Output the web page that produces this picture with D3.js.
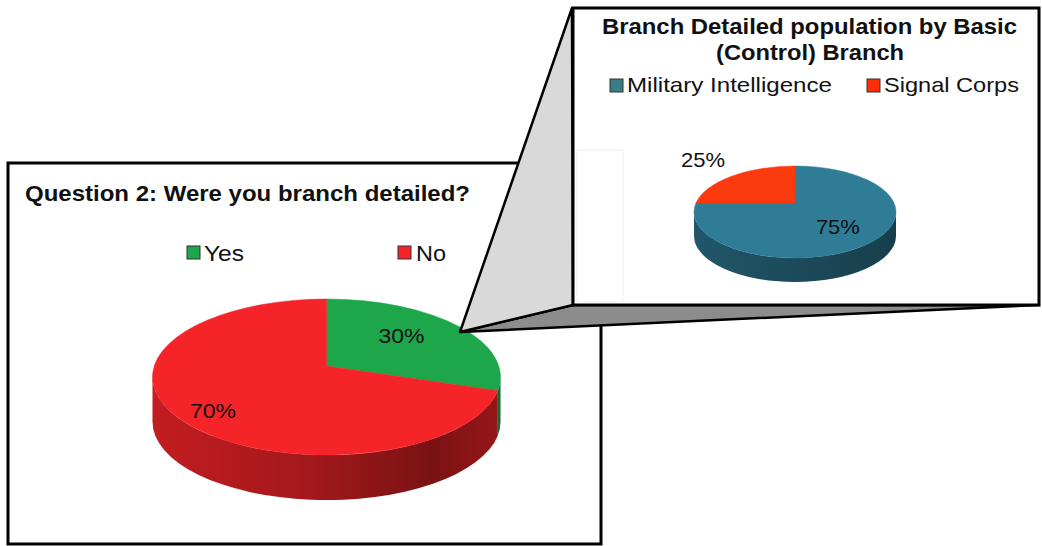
<!DOCTYPE html>
<html>
<head>
<meta charset="utf-8">
<script src="https://cdn.jsdelivr.net/npm/d3@7"></script>
<style>
  html, body { margin: 0; padding: 0; background: #fff; }
  svg { display: block; }
  text { font-family: "Liberation Sans", Arial, sans-serif; fill: #111; }
</style>
</head>
<body>
<svg id="chart" width="1042" height="546"></svg>
<script>
// ---------------- DATA ----------------
const leftTitle = "Question 2: Were you branch detailed?";
const leftCategories = ["Yes", "No"];
const leftValues = [30, 70];
const leftColors = ["#1ea64b", "#f42428"];

const insetTitle = ["Branch Detailed population by Basic", "(Control) Branch"];
const insetCategories = ["Military Intelligence", "Signal Corps"];
const insetValues = [75, 25];
const insetColors = ["#2f7c96", "#fb3a0e"];
const insetLegendColors = ["#3a7e84", "#ff2e08"];

// ---------------- LAYOUT ----------------
const svg = d3.select("#chart");
const defs = svg.append("defs");

const leftBox = { x: 8, y: 163, w: 593, h: 381 };
const insetBox = { x: 573, y: 8, w: 466, h: 297 };

const leftPie = { cx: 326.5, cy: 377, rx: 174, ry: 78, depth: 45, a: -0.141, id: "L" };
const insetPie = { cx: 795, cy: 212, rx: 101, ry: 46, depth: 24, a: -0.196, id: "R" };

// projective mapping of the flat disc (clockwise angle theta from top) onto the screen ellipse
function thetaToPsi(theta, a) {
  const u = Math.sin(theta), v = -Math.cos(theta);
  const c = Math.sqrt(1 - a * a);
  const X = u * c / (1 + a * v), Y = (v + a) / (1 + a * v);
  let psi = Math.atan2(X, -Y);
  if (psi < -1e-9) psi += 2 * Math.PI;
  return psi;
}
function discPoint(g, r, theta) {
  const u = r * Math.sin(theta), v = -r * Math.cos(theta);
  const c = Math.sqrt(1 - g.a * g.a);
  const X = u * c / (1 + g.a * v), Y = (v + g.a) / (1 + g.a * v);
  return [g.cx + g.rx * X, g.cy + g.ry * Y];
}
function rim(g, psi, dy = 0) {
  return [g.cx + g.rx * Math.sin(psi), g.cy - g.ry * Math.cos(psi) + dy];
}

function drawPie3D(parent, values, colors, g, sideStops) {
  const arcs = d3.pie().sort(null).value(d => d)(values);
  const slices = arcs.map((d, i) => {
    const p1 = thetaToPsi(d.startAngle, g.a);
    let p2 = (d.endAngle >= 2 * Math.PI - 1e-9) ? 2 * Math.PI : thetaToPsi(d.endAngle, g.a);
    if (p2 < p1) p2 += 2 * Math.PI;
    return { d, i, p1, p2 };
  });
  slices.forEach(s => {
    const grad = defs.append("linearGradient")
      .attr("id", `side${g.id}${s.i}`)
      .attr("gradientUnits", "userSpaceOnUse")
      .attr("x1", g.cx - g.rx).attr("x2", g.cx + g.rx).attr("y1", 0).attr("y2", 0);
    sideStops.forEach(([off, t]) => {
      grad.append("stop").attr("offset", off)
        .attr("stop-color", d3.interpolateRgb(colors[s.i], "#000")(t));
    });
  });
  const gs = parent.append("g");
  // sides (front half only)
  slices.forEach(s => {
    const lo = Math.max(s.p1, Math.PI / 2), hi = Math.min(s.p2, 3 * Math.PI / 2);
    if (hi - lo < 1e-4) return;
    const A = rim(g, lo), B = rim(g, hi), C = rim(g, hi, g.depth), D = rim(g, lo, g.depth);
    const path = `M${A}A${g.rx},${g.ry} 0 0 1 ${B}L${C}A${g.rx},${g.ry} 0 0 0 ${D}Z`;
    gs.append("path").attr("d", path).attr("fill", `url(#side${g.id}${s.i})`);
  });
  // top faces
  const apex = [g.cx, g.cy + g.a * g.ry];
  slices.forEach(s => {
    const A = rim(g, s.p1), B = rim(g, s.p2);
    const large = (s.p2 - s.p1) > Math.PI ? 1 : 0;
    const path = `M${apex}L${A}A${g.rx},${g.ry} 0 ${large} 1 ${B}Z`;
    gs.append("path").attr("d", path).attr("fill", colors[s.i])
      .attr("stroke", colors[s.i]).attr("stroke-width", 0.5);
  });
  return arcs;
}

function addText(parent, str, x, y, opts) {
  const t = parent.append("text").attr("x", x).attr("y", y).text(str)
    .attr("font-size", opts.size).attr("font-weight", opts.bold ? "bold" : "normal");
  if (opts.anchor) t.attr("text-anchor", opts.anchor);
  if (opts.len) t.attr("textLength", opts.len).attr("lengthAdjust", "spacingAndGlyphs");
  return t;
}

// ---------------- LEFT CHART ----------------
const left = svg.append("g");
left.append("rect").attr("x", leftBox.x).attr("y", leftBox.y)
  .attr("width", leftBox.w).attr("height", leftBox.h)
  .attr("fill", "#fff").attr("stroke", "#000").attr("stroke-width", 3);

const leftArcs = drawPie3D(left, leftValues, leftColors, leftPie,
  [[0, 0.2], [0.45, 0.33], [0.8, 0.5], [1, 0.38]]);

addText(left, leftTitle, 25, 201, { size: 21.5, bold: true, len: 445 });

const leftLegend = [
  { sq: 187, tx: 204, len: 40 },
  { sq: 398, tx: 416, len: 30 }
];
leftCategories.forEach((c, i) => {
  left.append("rect").attr("x", leftLegend[i].sq).attr("y", 246).attr("width", 13).attr("height", 13)
    .attr("fill", leftColors[i]).attr("stroke", "#333").attr("stroke-width", 1);
  addText(left, c, leftLegend[i].tx, 261, { size: 21.5, len: leftLegend[i].len });
});

// data labels (radius fraction, angle offset in rad)
const leftLabelPos = [[0.63, -0.12], [0.81, -0.09]];
leftArcs.forEach((d, i) => {
  const mid = (d.startAngle + d.endAngle) / 2 + leftLabelPos[i][1];
  const [x, y] = discPoint(leftPie, leftLabelPos[i][0], mid);
  addText(left, `${d.data}%`, x, y + 7.5, { size: 21, anchor: "middle", len: 46 });
});

// ---------------- CALLOUT ----------------
const tip = [460, 332];
const callout = svg.append("g");
callout.append("path")
  .attr("d", `M${tip}L${insetBox.x},${insetBox.y + insetBox.h}L${insetBox.x + insetBox.w},${insetBox.y + insetBox.h}Z`)
  .attr("fill", "#8c8c8c").attr("stroke", "#000").attr("stroke-width", 2.5).attr("stroke-linejoin", "round");
callout.append("path")
  .attr("d", `M${tip}L${insetBox.x - 1},${insetBox.y}L${insetBox.x},${insetBox.y + insetBox.h}Z`)
  .attr("fill", "#d9d9d9").attr("stroke", "#000").attr("stroke-width", 2.5).attr("stroke-linejoin", "round");

// ---------------- INSET CHART ----------------
const inset = svg.append("g");
inset.append("rect").attr("x", insetBox.x).attr("y", insetBox.y)
  .attr("width", insetBox.w).attr("height", insetBox.h)
  .attr("fill", "#fff").attr("stroke", "#000").attr("stroke-width", 3);
inset.append("rect").attr("x", 577).attr("y", 150).attr("width", 46).attr("height", 152)
  .attr("fill", "none").attr("stroke", "#efefef").attr("stroke-width", 1);

addText(inset, insetTitle[0], 602, 34, { size: 22, bold: true, len: 415 });
addText(inset, insetTitle[1], 716, 60, { size: 22, bold: true, len: 188 });

const insetLegend = [
  { sq: 610, tx: 627, len: 205 },
  { sq: 867, tx: 884, len: 135 }
];
insetCategories.forEach((c, i) => {
  inset.append("rect").attr("x", insetLegend[i].sq).attr("y", 79).attr("width", 13).attr("height", 13)
    .attr("fill", insetLegendColors[i]).attr("stroke", "#333").attr("stroke-width", 1);
  addText(inset, c, insetLegend[i].tx, 92, { size: 21, len: insetLegend[i].len });
});

const insetArcs = drawPie3D(inset, insetValues, insetColors, insetPie,
  [[0, 0.3], [0.5, 0.4], [1, 0.5]]);

const insetLabelPos = [[0.62, 0.1], [1.68, 0.03]];
insetArcs.forEach((d, i) => {
  const mid = (d.startAngle + d.endAngle) / 2 + insetLabelPos[i][1];
  const [x, y] = discPoint(insetPie, insetLabelPos[i][0], mid);
  addText(inset, `${d.data}%`, x, y + 7.5, { size: 21, anchor: "middle", len: 44 });
});
</script>
</body>
</html>
